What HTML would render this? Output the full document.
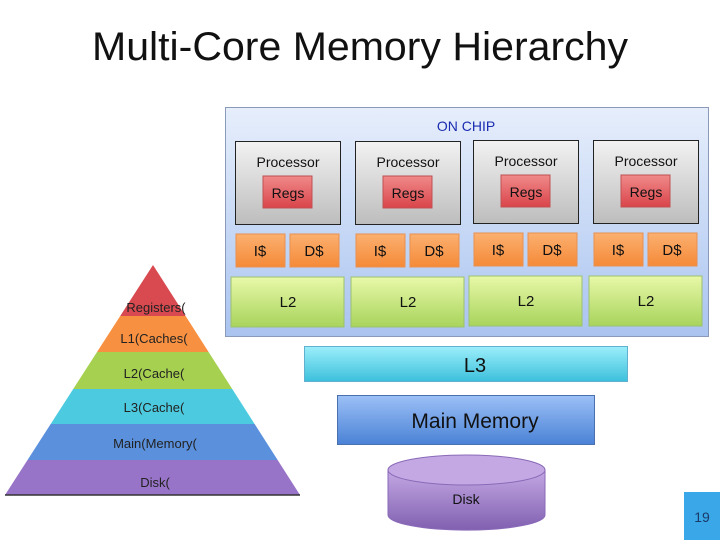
<!DOCTYPE html>
<html><head><meta charset="utf-8"><style>
html,body{margin:0;padding:0;background:#fff;width:720px;height:540px;overflow:hidden}
text{font-family:"Liberation Sans",sans-serif}
</style></head><body>
<svg width="720" height="540" viewBox="0 0 720 540" xmlns="http://www.w3.org/2000/svg">
<defs>
<linearGradient id="chip" x1="0" y1="0" x2="0" y2="1"><stop offset="0" stop-color="#e6eefb"/><stop offset="1" stop-color="#aac4f0"/></linearGradient>
<linearGradient id="proc" x1="0" y1="0" x2="0" y2="1"><stop offset="0" stop-color="#f2f2f2"/><stop offset="1" stop-color="#bdbdbd"/></linearGradient>
<linearGradient id="regs" x1="0" y1="0" x2="0" y2="1"><stop offset="0" stop-color="#f08a8a"/><stop offset="1" stop-color="#d9444a"/></linearGradient>
<linearGradient id="l1" x1="0" y1="0" x2="0" y2="1"><stop offset="0" stop-color="#fbb070"/><stop offset="1" stop-color="#f58a38"/></linearGradient>
<linearGradient id="l2" x1="0" y1="0" x2="0" y2="1"><stop offset="0" stop-color="#e8f8a8"/><stop offset="1" stop-color="#a8d45c"/></linearGradient>
<linearGradient id="l3" x1="0" y1="0" x2="0" y2="1"><stop offset="0" stop-color="#9ceefa"/><stop offset="1" stop-color="#3cc0dc"/></linearGradient>
<linearGradient id="mm" x1="0" y1="0" x2="0" y2="1"><stop offset="0" stop-color="#9cc0f6"/><stop offset="1" stop-color="#4a82d6"/></linearGradient>
<linearGradient id="dk" x1="0" y1="0" x2="0" y2="1"><stop offset="0" stop-color="#c4a8e4"/><stop offset="1" stop-color="#8060b0"/></linearGradient>
<clipPath id="tri"><polygon points="153,265 300,495 5,495"/></clipPath>
</defs>
<text x="360" y="60" font-size="40" text-anchor="middle" fill="#111" textLength="536" lengthAdjust="spacingAndGlyphs">Multi-Core Memory Hierarchy</text>

<rect x="225.5" y="107.5" width="483" height="229" fill="url(#chip)" stroke="#8a9ab8"/>
<text x="466" y="131" font-size="14" text-anchor="middle" fill="#1a2cb0">ON CHIP</text>

<g id="c">
<rect x="235.5" y="141.5" width="105" height="83" fill="url(#proc)" stroke="#222"/>
<text x="288" y="167" font-size="14" text-anchor="middle" fill="#111">Processor</text>
<rect x="263" y="176" width="49" height="32" fill="url(#regs)" stroke="#c05050"/>
<text x="288" y="198" font-size="14" text-anchor="middle" fill="#111">Regs</text>
<rect x="236" y="234" width="49" height="33" fill="url(#l1)" stroke="#e89050"/>
<text x="260" y="256" font-size="15" text-anchor="middle" fill="#111">I$</text>
<rect x="290" y="234" width="49" height="33" fill="url(#l1)" stroke="#e89050"/>
<text x="314" y="256" font-size="15" text-anchor="middle" fill="#111">D$</text>
<rect x="231" y="277" width="113" height="50" fill="url(#l2)" stroke="#9cc070"/>
<text x="288" y="307" font-size="15" text-anchor="middle" fill="#111">L2</text>
</g>
<use href="#c" x="120"/>
<use href="#c" x="238" y="-1"/>
<use href="#c" x="358" y="-1"/>

<g clip-path="url(#tri)">
<rect x="0" y="265" width="310" height="51" fill="#d84a50"/>
<rect x="0" y="316" width="310" height="36" fill="#f79040"/>
<rect x="0" y="352" width="310" height="37" fill="#a6d050"/>
<rect x="0" y="389" width="310" height="35" fill="#4ccbe0"/>
<rect x="0" y="424" width="310" height="36" fill="#5a90dc"/>
<rect x="0" y="460" width="310" height="35" fill="#9874c8"/>
</g>
<line x1="5" y1="495" x2="300" y2="495" stroke="#333" stroke-width="1.5"/>
<g font-size="13" fill="#222" text-anchor="middle">
<text x="156" y="312">Registers(</text>
<text x="154" y="343">L1(Caches(</text>
<text x="154" y="378">L2(Cache(</text>
<text x="154" y="412">L3(Cache(</text>
<text x="155" y="448">Main(Memory(</text>
<text x="155" y="487">Disk(</text>
</g>

<rect x="304.5" y="346.5" width="323" height="35" fill="url(#l3)" stroke="#60b0d0"/>
<text x="475" y="372" font-size="20" text-anchor="middle" fill="#111">L3</text>
<rect x="337.5" y="395.5" width="257" height="49" fill="url(#mm)" stroke="#4a70b0"/>
<text x="475" y="428" font-size="21" text-anchor="middle" fill="#111">Main Memory</text>

<path d="M388,470 L388,515 A78,15 0 0 0 545,515 L545,470 Z" fill="url(#dk)" stroke="#8a6ab8"/>
<ellipse cx="466.5" cy="470" rx="78.5" ry="15" fill="#c4a8e4" stroke="#8a6ab8"/>
<text x="466" y="504" font-size="14" text-anchor="middle" fill="#111">Disk</text>

<rect x="684" y="492" width="36" height="48" fill="#3aa8e8"/>
<text x="702" y="522" font-size="14" text-anchor="middle" fill="#1a3a6a">19</text>
</svg>
</body></html>
